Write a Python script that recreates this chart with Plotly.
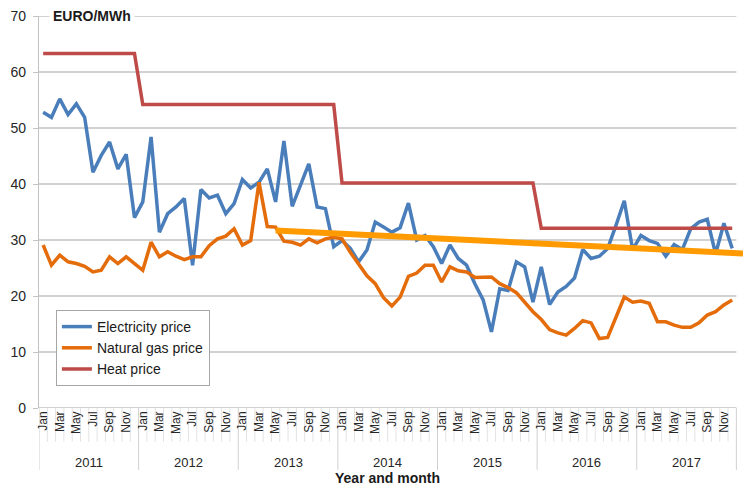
import plotly.graph_objects as go

month_names = ['Jan', 'Feb', 'Mar', 'Apr', 'May', 'Jun', 'Jul', 'Aug', 'Sep', 'Oct', 'Nov', 'Dec']
years = ['2011', '2012', '2013', '2014', '2015', '2016', '2017']

electricity = [
    52.8, 51.9, 55.2, 52.4, 54.3, 51.9, 42.1, 45.1, 47.5, 42.7, 45.3, 34.0,
    36.8, 48.4, 31.4, 34.7, 35.9, 37.4, 25.5, 39.0, 37.5, 38.0, 34.7, 36.5,
    40.8, 39.3, 40.3, 42.7, 36.8, 47.7, 36.0, 40.0, 43.6, 35.9, 35.6, 28.8,
    29.9, 28.5, 26.1, 28.2, 33.2, 32.3, 31.4, 32.2, 36.6, 30.0, 30.8, 28.8,
    25.8, 29.1, 26.7, 25.5, 22.2, 19.3, 13.6, 21.3, 21.0, 26.1, 25.2, 18.9,
    25.2, 18.5, 20.7, 21.7, 23.2, 28.3, 26.7, 27.1, 28.5, 32.6, 37.0, 28.3,
    30.8, 29.9, 29.4, 27.1, 29.2, 28.3, 32.0, 33.2, 33.7, 27.5, 33.0, 28.5,
]
natural_gas = [
    29.1, 25.5, 27.3, 26.1, 25.8, 25.3, 24.3, 24.6, 27.0, 25.8, 27.0, 25.8,
    24.6, 29.6, 27.0, 27.9, 27.1, 26.5, 27.0, 27.0, 29.0, 30.2, 30.7, 32.0,
    29.1, 29.9, 40.3, 32.4, 32.3, 29.8, 29.6, 29.1, 30.2, 29.5, 30.2, 30.5,
    30.2, 27.8, 25.6, 23.6, 22.2, 19.7, 18.2, 19.8, 23.5, 24.1, 25.5, 25.5,
    22.5, 25.2, 24.5, 24.3, 23.3, 23.3, 23.4, 22.2, 21.5, 20.6, 18.9, 17.2,
    15.8, 14.0, 13.4, 13.0, 14.2, 15.6, 15.2, 12.4, 12.6, 16.3, 19.8, 18.9,
    19.1, 18.7, 15.4, 15.4, 14.8, 14.4, 14.4, 15.2, 16.6, 17.2, 18.4, 19.3,
]
heat = [63.3] * 12 + [54.2] * 24 + [40.2] * 24 + [32.1] * 24

trend_x = [28, 84.3]
trend_y = [31.7, 27.6]

n = len(electricity)
x = list(range(n))

fig = go.Figure()
fig.add_trace(go.Scatter(x=x, y=electricity, mode='lines', name='Electricity price',
                         line=dict(color='#4A7EBB', width=3.5)))
fig.add_trace(go.Scatter(x=x, y=natural_gas, mode='lines', name='Natural gas price',
                         line=dict(color='#E46C0A', width=3.5)))
fig.add_trace(go.Scatter(x=x, y=heat, mode='lines', name='Heat price',
                         line=dict(color='#BE4B48', width=3.5)))
fig.add_trace(go.Scatter(x=trend_x, y=trend_y, mode='lines', showlegend=False,
                         line=dict(color='#FF9A00', width=6)))

shapes = []
grid_color = '#c3c3c3'
for v in range(0, 71, 10):
    shapes.append(dict(type='line', xref='x', yref='y', x0=-0.5, x1=n - 0.5, y0=v, y1=v,
                       line=dict(color=grid_color, width=1.3), layer='below'))
for b in range(n + 1):
    is_year = (b % 12 == 0)
    shapes.append(dict(type='line', xref='x', yref='paper', x0=b - 0.5, x1=b - 0.5,
                       y0=0, y1=-0.158 if is_year else -0.086,
                       line=dict(color='#d0d0d0' if is_year else '#e3e3e3', width=1),
                       layer='below'))

annotations = []
for k, yr in enumerate(years):
    annotations.append(dict(x=12 * k + 5.5, y=-0.14, xref='x', yref='paper', text=yr,
                            showarrow=False, font=dict(size=13, color='#262626'),
                            xanchor='center', yanchor='middle'))
annotations.append(dict(x=41.5, y=-0.178, xref='x', yref='paper', text='<b>Year and month</b>',
                        showarrow=False, font=dict(size=14, color='#1a1a1a'),
                        xanchor='center', yanchor='middle'))
annotations.append(dict(x=0.75, y=70, xref='x', yref='y', text='<b>EURO/MWh</b>',
                        showarrow=False, font=dict(size=14, color='#1a1a1a'),
                        xanchor='left', yanchor='middle', bgcolor='white', borderpad=3))

tickvals = [i for i in x if i % 2 == 0]
ticktext = [month_names[i % 12] for i in tickvals]

fig.update_layout(
    width=743, height=490,
    margin=dict(l=39, r=0, t=16, b=82),
    paper_bgcolor='white', plot_bgcolor='white',
    font=dict(family='Liberation Sans, Arial, sans-serif', color='#262626'),
    shapes=shapes,
    annotations=annotations,
    showlegend=True,
    legend=dict(x=0.024, y=0.25, xanchor='left', yanchor='top',
                bgcolor='white', bordercolor='#a6a6a6', borderwidth=1,
                font=dict(size=14, color='#1a1a1a'), itemwidth=30, tracegroupgap=0),
)
fig.update_xaxes(range=[-0.5, 84.3], tickvals=tickvals, ticktext=ticktext, tickangle=-90,
                 tickfont=dict(size=12, color='#262626'), showgrid=False, zeroline=False,
                 showline=False, ticks='')
fig.update_yaxes(range=[0, 70], tickvals=list(range(0, 71, 10)), showgrid=False, zeroline=False,
                 showline=True, linecolor='#c3c3c3', linewidth=1.3, ticks='outside', ticklen=5,
                 tickcolor='#c3c3c3', tickfont=dict(size=14, color='#262626'),
                 ticklabelstandoff=4)

fig.write_html('out.html', config={'displayModeBar': False},
               post_script="document.body.style.margin='0';document.body.style.overflow='hidden';")
